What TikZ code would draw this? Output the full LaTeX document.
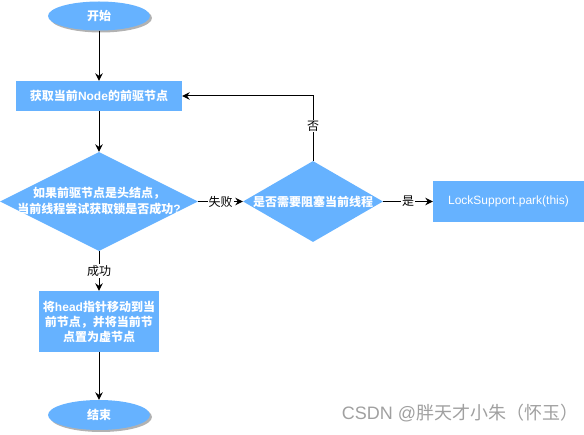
\documentclass[tikz,border=0pt]{standalone}
\usepackage{fontspec}
\setmainfont{Noto Sans CJK SC}
\newfontfamily\lat{Liberation Sans}
\usetikzlibrary{shapes.geometric,arrows.meta,shadows}
\definecolor{flow}{HTML}{66B2FF}
\definecolor{wm}{HTML}{A0A0A0}
\tikzset{
  base/.style={fill=flow, draw=none, text=white, inner sep=0pt, align=center, font=\fontsize{12}{15}\selectfont\bfseries},
  term/.style={base, ellipse, minimum width=102pt, minimum height=29pt,
     drop shadow={shadow xshift=2pt, shadow yshift=-2pt, fill=black!30, opacity=1}},
  proc/.style={base, rectangle},
  dec/.style={base, diamond},
  conn/.style={draw=black, line width=1pt, -{Stealth[length=7.5pt,width=7.5pt,inset=2.5pt]}},
  elab/.style={fill=white, text=black, inner sep=1pt, font=\fontsize{12}{14}\selectfont},
}
\begin{document}
\begin{tikzpicture}[x=1pt,y=-1pt]
\useasboundingbox (0,0) rectangle (584,435);
\node[term] (start) at (99,16) {开始};
\node[proc, minimum width=166pt, minimum height=30pt] (get) at (99,96) {获取当前{\lat\bfseries Node}的前驱节点};
\node[dec, minimum width=198pt, minimum height=99pt,
  label={[base, fill=none, font=\fontsize{12}{16}\selectfont\bfseries]center:如果前驱节点是头结点，\\当前线程尝试获取锁是否成功{\lat\bfseries ?}}] (d1) at (99,201.5) {};
\node[dec, minimum width=140pt, minimum height=81pt,
  label={[base, fill=none]center:是否需要阻塞当前线程}] (d2) at (313,201.5) {};
\node[proc, minimum width=151pt, minimum height=41pt, font=\fontsize{12}{15}\selectfont] (park) at (508.5,201.5) {\lat LockSupport.park(this)};
\node[proc, minimum width=120pt, minimum height=61pt] (move) at (99,321.5) {将{\lat\bfseries head}指针移动到当\\前节点，并将当前节\\点置为虚节点};
\node[term, minimum height=30pt] (end) at (99,415) {结束};
\node[text=wm, font=\fontsize{18}{20}\selectfont, inner sep=0pt] (wmark) at (460,413) {{\lat CSDN @}胖天才小朱（怀玉）};

\draw[conn] (start) -- (get);
\draw[conn] (get) -- (d1);
\draw[conn] (d1) -- node[elab] {失败} (d2);
\draw[conn] (d2) -- node[elab] {是} (park);
\draw[conn] (d2.north) |- node[elab, pos=0.27] {否} (get.east);
\draw[conn] (d1) -- node[elab] {成功} (move);
\draw[conn] (move) -- (end);
\end{tikzpicture}
\end{document}
